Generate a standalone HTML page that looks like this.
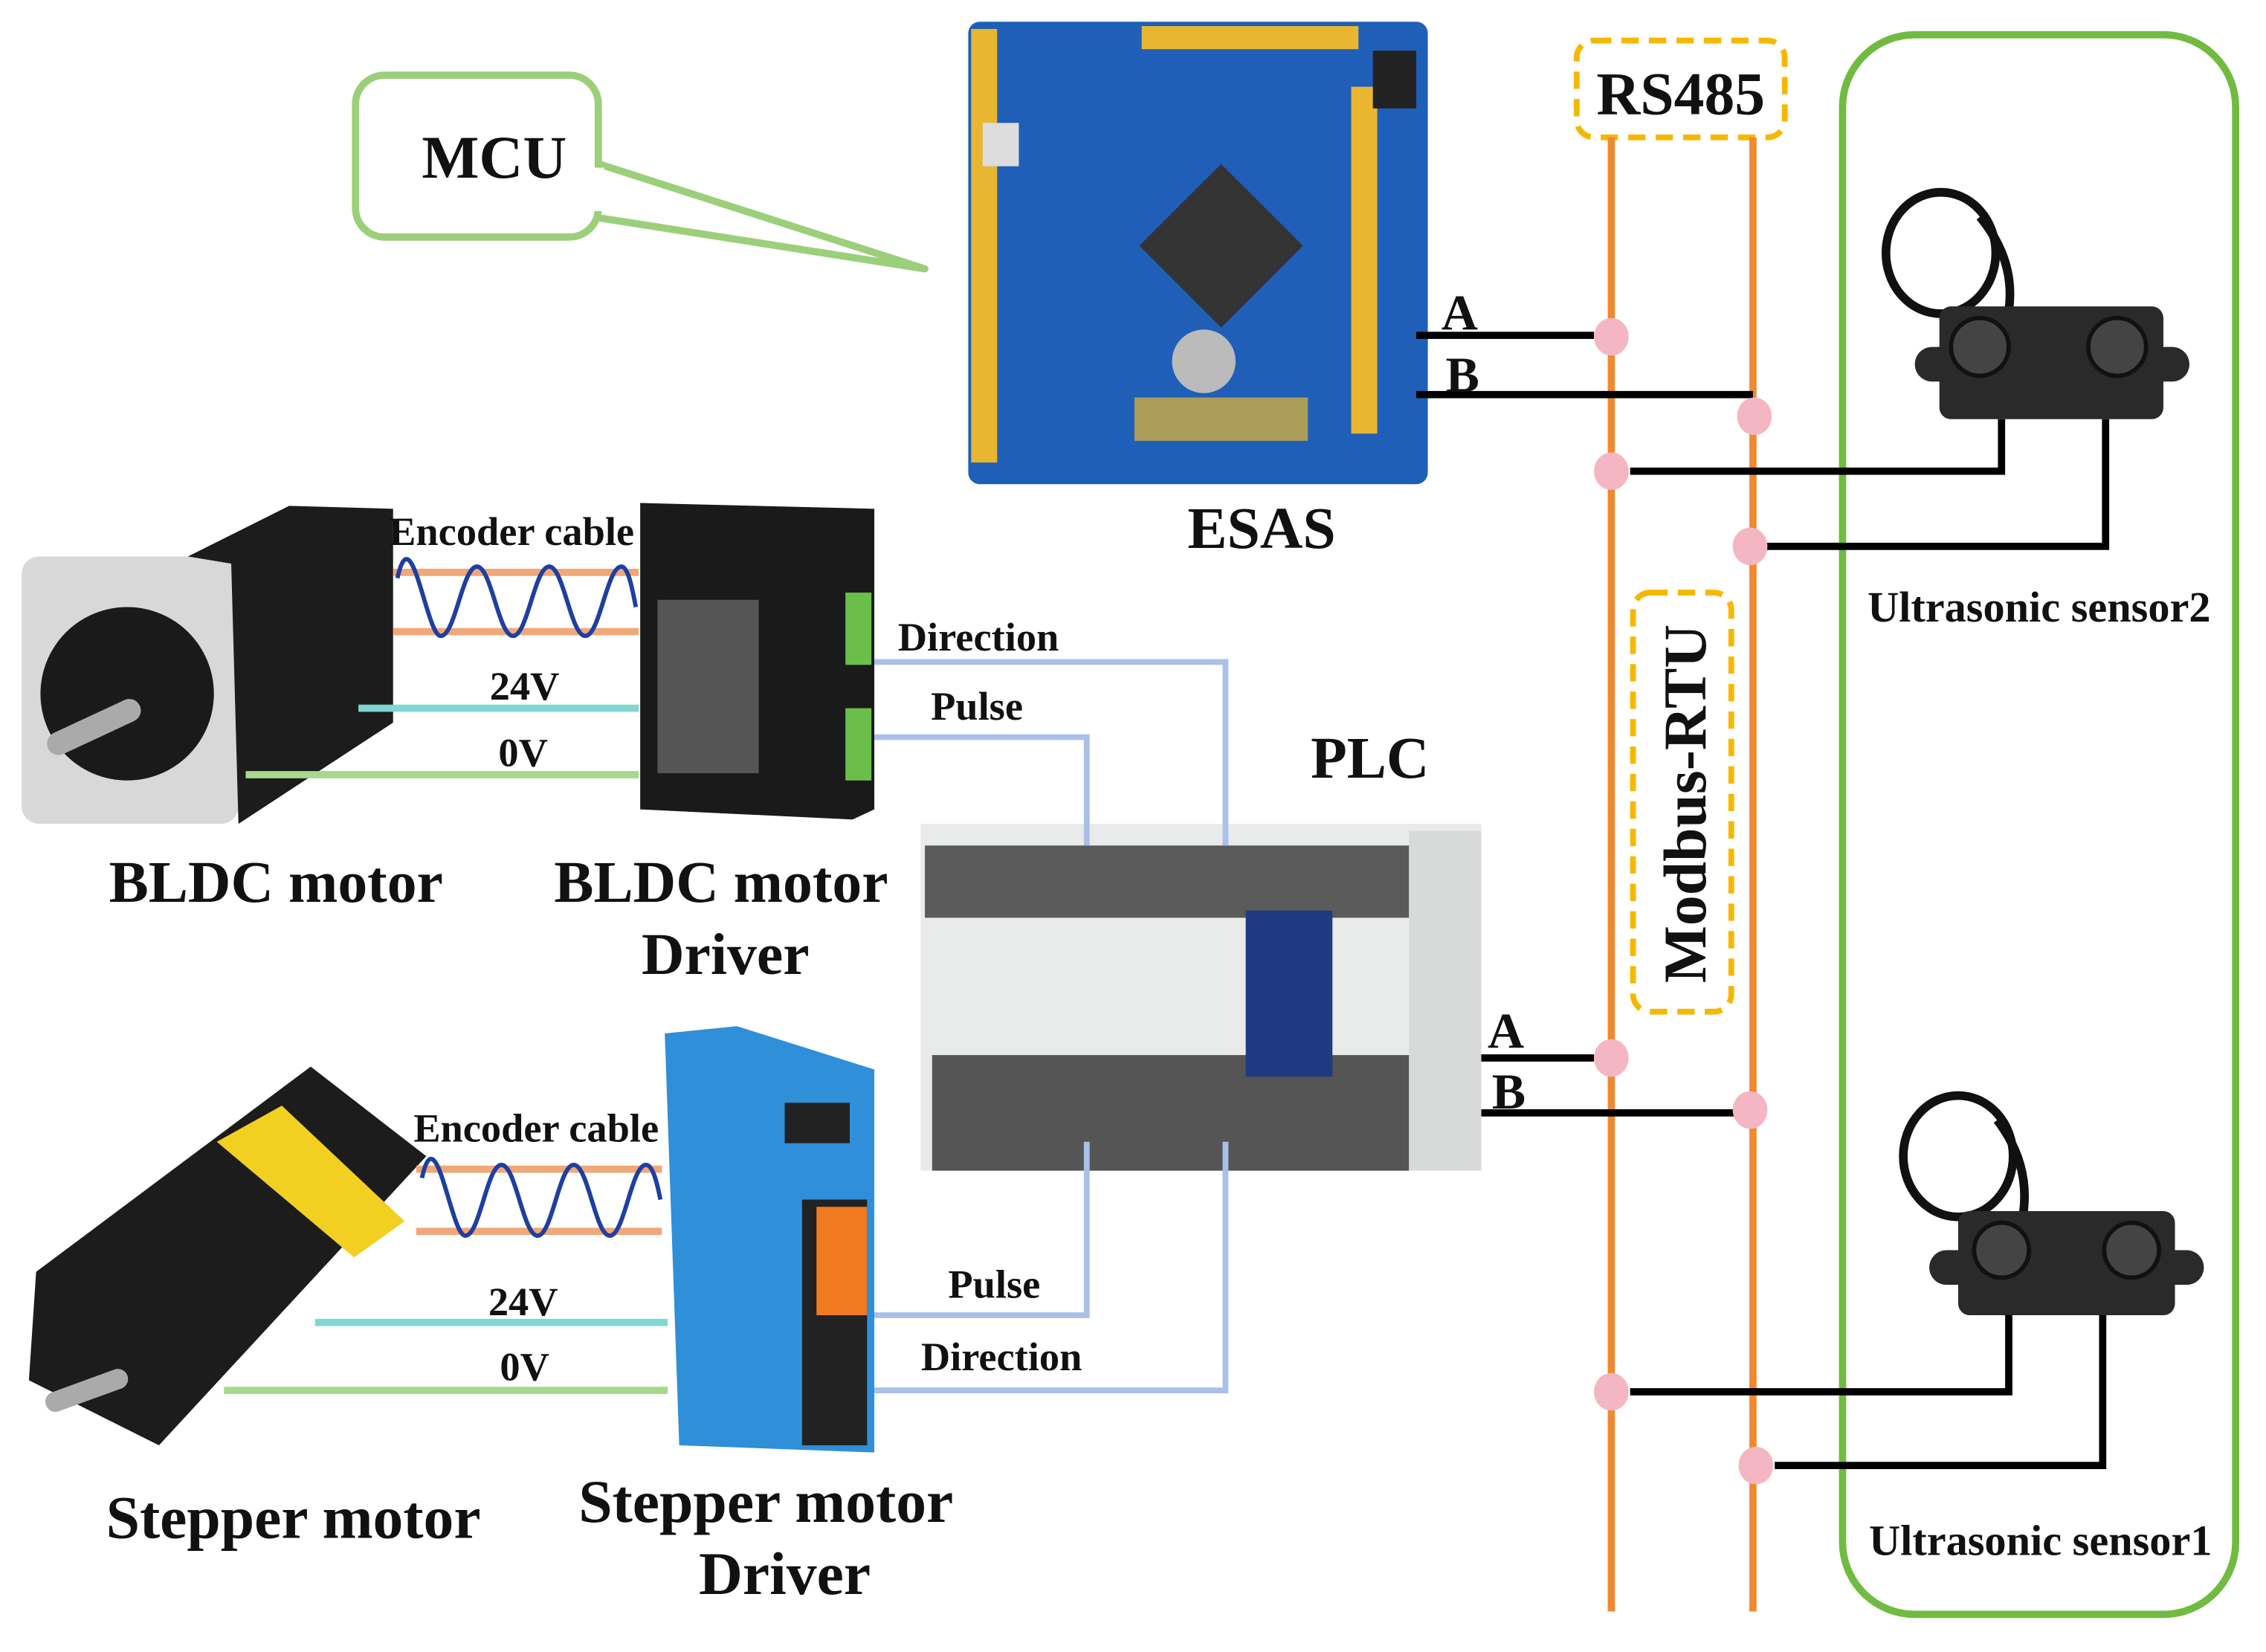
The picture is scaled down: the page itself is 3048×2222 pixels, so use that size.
<!DOCTYPE html>
<html><head><meta charset="utf-8"><style>
html,body{margin:0;padding:0;background:#fff;}
svg{display:block;}
text{font-family:"Liberation Serif",serif;font-weight:bold;fill:#111;}
</style></head><body>
<svg width="3048" height="2222" viewBox="0 0 1568 1143" xmlns="http://www.w3.org/2000/svg">
<rect width="1568" height="1143" fill="#fff"/>
<!-- MCU callout -->
<polygon points="410,112 640,186 410,150" fill="#fff" stroke="#9ccf7a" stroke-width="5" stroke-linejoin="round"/>
<rect x="246" y="52" width="168" height="112" rx="20" fill="#fff" stroke="#9ccf7a" stroke-width="5"/>
<rect x="408" y="116" width="10" height="30" fill="#fff"/>
<text x="342" y="123" font-size="42" text-anchor="middle">MCU</text>
<!-- ESAS board -->
<rect x="670" y="15" width="318" height="320" rx="8" fill="#1f5fb8"/>
<rect x="672" y="20" width="18" height="300" fill="#e8b630"/>
<rect x="935" y="60" width="18" height="240" fill="#e8b630"/>
<rect x="790" y="18" width="150" height="16" fill="#e8b630"/>
<rect x="805" y="130" width="80" height="80" fill="#333" transform="rotate(45 845 170)"/>
<circle cx="833" cy="250" r="22" fill="#bbb"/>
<rect x="785" y="275" width="120" height="30" fill="#e8b630" opacity="0.7"/>
<rect x="680" y="85" width="25" height="30" fill="#ddd"/>
<rect x="950" y="35" width="30" height="40" fill="#222"/>
<text x="873" y="379" font-size="41" text-anchor="middle">ESAS</text>
<!-- RS485 -->
<rect x="1091" y="28" width="144" height="67" rx="12" fill="#fff" stroke="#f5b800" stroke-width="4" stroke-dasharray="12,7"/>
<text x="1163" y="79" font-size="42" text-anchor="middle">RS485</text>
<!-- green sensor box -->
<rect x="1275" y="24" width="272" height="1093" rx="50" fill="none" stroke="#70bb40" stroke-width="5"/>
<!-- orange buses -->
<line x1="1115" y1="95" x2="1115" y2="1115" stroke="#f08a30" stroke-width="5"/>
<line x1="1213" y1="95" x2="1213" y2="1115" stroke="#f08a30" stroke-width="5"/>
<!-- Modbus-RTU -->
<rect x="1130" y="410" width="68" height="290" rx="12" fill="#fff" stroke="#f5b800" stroke-width="4" stroke-dasharray="12,7"/>
<text x="0" y="0" font-size="42" text-anchor="middle" transform="translate(1180,556) rotate(-90)">Modbus-RTU</text>
<!-- black lines -->
<g stroke="#000" stroke-width="5" fill="none">
<polyline points="980,232 1103,232"/>
<polyline points="980,273 1213,273"/>
<polyline points="1128,326 1385,326 1385,290"/>
<polyline points="1222,378 1457,378 1457,290"/>
<polyline points="1025,732 1103,732"/>
<polyline points="975,770 1200,770"/>
<polyline points="1128,963 1390,963 1390,910"/>
<polyline points="1228,1014 1455,1014 1455,910"/>
</g>
<text x="1010" y="228" font-size="35" text-anchor="middle">A</text>
<text x="1012" y="271" font-size="35" text-anchor="middle">B</text>
<text x="1042" y="725" font-size="35" text-anchor="middle">A</text>
<text x="1044" y="767" font-size="35" text-anchor="middle">B</text>
<g fill="#f4b6c2">
<ellipse cx="1115" cy="233" rx="12" ry="13"/>
<ellipse cx="1214" cy="288" rx="12" ry="13"/>
<ellipse cx="1115" cy="326" rx="12" ry="13"/>
<ellipse cx="1211" cy="378" rx="12" ry="13"/>
<ellipse cx="1115" cy="732" rx="12" ry="13"/>
<ellipse cx="1211" cy="768" rx="12" ry="13"/>
<ellipse cx="1115" cy="963" rx="12" ry="13"/>
<ellipse cx="1215" cy="1014" rx="12" ry="13"/>
</g>
<!-- sensor2 -->
<ellipse cx="1343" cy="175" rx="38" ry="42" fill="none" stroke="#111" stroke-width="6"/>
<path d="M1370 150 Q1395 180 1390 215" stroke="#111" stroke-width="6" fill="none"/>
<rect x="1325" y="240" width="190" height="24" rx="12" fill="#2a2a2a"/>
<rect x="1342" y="212" width="155" height="78" rx="8" fill="#2a2a2a"/>
<circle cx="1370" cy="240" r="20" fill="#444" stroke="#111" stroke-width="3"/>
<circle cx="1465" cy="240" r="20" fill="#444" stroke="#111" stroke-width="3"/>
<text x="1411" y="430" font-size="30" text-anchor="middle">Ultrasonic sensor2</text>
<!-- sensor1 -->
<ellipse cx="1355" cy="800" rx="38" ry="42" fill="none" stroke="#111" stroke-width="6"/>
<path d="M1382 775 Q1405 805 1400 840" stroke="#111" stroke-width="6" fill="none"/>
<rect x="1335" y="865" width="190" height="24" rx="12" fill="#2a2a2a"/>
<rect x="1355" y="838" width="150" height="72" rx="8" fill="#2a2a2a"/>
<circle cx="1385" cy="865" r="19" fill="#444" stroke="#111" stroke-width="3"/>
<circle cx="1475" cy="865" r="19" fill="#444" stroke="#111" stroke-width="3"/>
<text x="1412" y="1076" font-size="30" text-anchor="middle">Ultrasonic sensor1</text>
<!-- PLC -->
<text x="948" y="538" font-size="41" text-anchor="middle">PLC</text>
<rect x="637" y="570" width="388" height="240" fill="#e9eaea"/>
<rect x="640" y="585" width="335" height="50" fill="#5a5a5a"/>
<rect x="645" y="730" width="330" height="80" fill="#555"/>
<rect x="862" y="630" width="60" height="115" fill="#1e3a80"/>
<rect x="975" y="575" width="50" height="235" fill="#d8d9d9"/>
<!-- blue signal lines -->
<g stroke="#a9c0e8" stroke-width="4" fill="none">
<polyline points="605,458 848,458 848,585"/>
<polyline points="605,510 752,510 752,585"/>
<polyline points="605,910 752,910 752,790"/>
<polyline points="605,962 848,962 848,790"/>
</g>
<text x="677" y="450" font-size="28" text-anchor="middle">Direction</text>
<text x="676" y="498" font-size="28" text-anchor="middle">Pulse</text>
<text x="688" y="898" font-size="28" text-anchor="middle">Pulse</text>
<text x="693" y="948" font-size="28" text-anchor="middle">Direction</text>
<!-- BLDC motor -->
<rect x="15" y="385" width="150" height="185" rx="12" fill="#d8d8d8"/>
<polygon points="130,385 200,350 272,352 272,500 165,570 160,390" fill="#1c1c1c"/>
<circle cx="88" cy="480" r="60" fill="#1a1a1a"/>
<rect x="30" y="495" width="70" height="16" rx="8" fill="#aaa" transform="rotate(-25 65 503)"/>
<!-- encoder 1 -->
<line x1="272" y1="396" x2="442" y2="396" stroke="#f0a878" stroke-width="5"/>
<line x1="272" y1="437" x2="442" y2="437" stroke="#f0a878" stroke-width="5"/>
<path d="M275 400 C285 355,295 440,305 440 C315 440,320 392,330 392 C340 392,345 440,355 440 C365 440,370 392,380 392 C390 392,395 440,405 440 C415 440,420 392,430 392 C435 392,438 410,440 420" stroke="#1f3fa0" stroke-width="3" fill="none"/>
<text x="354" y="377" font-size="28" text-anchor="middle">Encoder cable</text>
<line x1="248" y1="490" x2="442" y2="490" stroke="#7fd8d0" stroke-width="5"/>
<text x="363" y="484" font-size="28" text-anchor="middle">24V</text>
<line x1="170" y1="536" x2="442" y2="536" stroke="#a6d98a" stroke-width="5"/>
<text x="362" y="530" font-size="28" text-anchor="middle">0V</text>
<!-- BLDC driver -->
<polygon points="443,348 605,352 605,560 590,567 443,560" fill="#1a1a1a"/>
<rect x="585" y="410" width="18" height="50" fill="#6abf4b"/>
<rect x="585" y="490" width="18" height="50" fill="#6abf4b"/>
<rect x="455" y="415" width="70" height="120" fill="#555"/>
<text x="191" y="624" font-size="41" text-anchor="middle">BLDC motor</text>
<text x="499" y="624" font-size="41" text-anchor="middle">BLDC motor</text>
<text x="502" y="674" font-size="41" text-anchor="middle">Driver</text>
<!-- stepper motor -->
<polygon points="25,880 215,738 295,800 110,1000 20,955" fill="#1c1c1c"/>
<polygon points="150,790 195,765 280,845 245,870" fill="#f2d021"/>
<rect x="30" y="955" width="60" height="14" rx="7" fill="#aaa" transform="rotate(-20 60 962)"/>
<line x1="288" y1="809" x2="458" y2="809" stroke="#f0a878" stroke-width="5"/>
<line x1="288" y1="852" x2="458" y2="852" stroke="#f0a878" stroke-width="5"/>
<path d="M292 815 C302 770,312 855,322 855 C332 855,337 806,347 806 C357 806,362 855,372 855 C382 855,387 806,397 806 C407 806,412 855,422 855 C432 855,437 806,447 806 C452 806,455 820,457 830" stroke="#1f3fa0" stroke-width="3" fill="none"/>
<text x="371" y="790" font-size="28" text-anchor="middle">Encoder cable</text>
<line x1="218" y1="915" x2="462" y2="915" stroke="#7fd8d0" stroke-width="5"/>
<text x="362" y="910" font-size="28" text-anchor="middle">24V</text>
<line x1="155" y1="962" x2="462" y2="962" stroke="#a6d98a" stroke-width="5"/>
<text x="363" y="955" font-size="28" text-anchor="middle">0V</text>
<!-- stepper driver -->
<polygon points="460,715 510,710 605,740 605,1005 470,1000" fill="#2f8fd8"/>
<rect x="543" y="763" width="45" height="28" fill="#222"/>
<rect x="555" y="830" width="45" height="170" fill="#222"/>
<rect x="565" y="835" width="35" height="75" fill="#f07a20"/>
<text x="203" y="1064" font-size="42" text-anchor="middle">Stepper motor</text>
<text x="530" y="1053" font-size="42" text-anchor="middle">Stepper motor</text>
<text x="543" y="1103" font-size="42" text-anchor="middle">Driver</text>
</svg>
</body></html>
